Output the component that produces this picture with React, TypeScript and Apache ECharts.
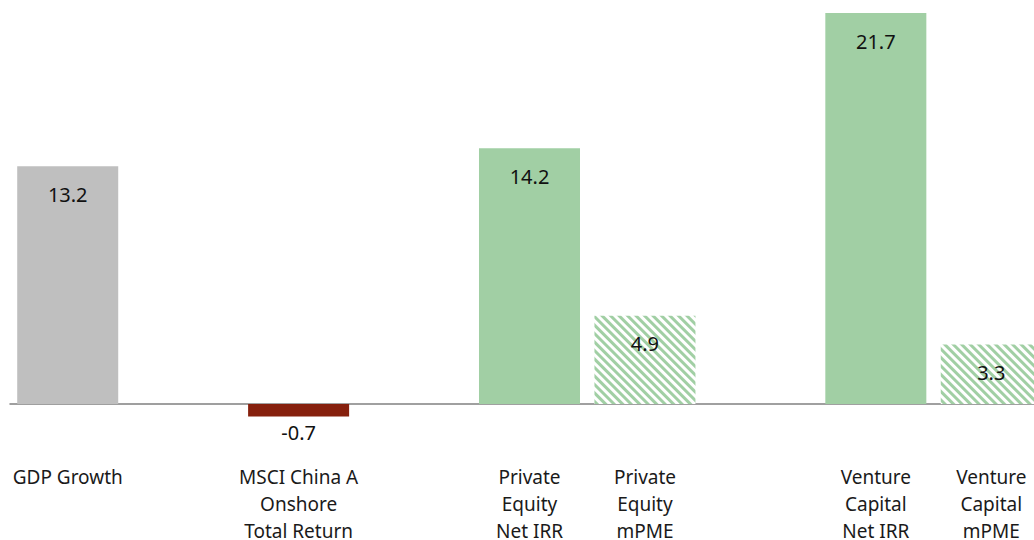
import React, { useEffect, useRef } from "react";
import * as echarts from "echarts";

const categories = [
  "GDP Growth",
  "",
  "MSCI China A\nOnshore\nTotal Return",
  "",
  "Private\nEquity\nNet IRR",
  "Private\nEquity\nmPME",
  "",
  "Venture\nCapital\nNet IRR",
  "Venture\nCapital\nmPME",
];
const values: (number | null)[] = [13.2, null, -0.7, null, 14.2, 4.9, null, 21.7, 3.3];
const kinds = ["gray", "", "red", "", "green", "hatch", "", "green", "hatch"];

const FONT = "Noto Sans";

export default function App() {
  const ref = useRef<HTMLDivElement>(null);
  useEffect(() => {
    if (!ref.current) return;
    const chart = echarts.init(ref.current, null, { renderer: "svg" });
    const data = values.map((v, i) => {
      if (v === null) return { value: "-" as any };
      const k = kinds[i];
      const itemStyle: any =
        k === "gray"
          ? { color: "#bfbfbf" }
          : k === "red"
          ? { color: "#86200d" }
          : k === "green"
          ? { color: "#a1cfa4" }
          : {
              color: "#ffffff",
              decal: {
                symbol: "rect",
                symbolSize: 1,
                dashArrayX: [1, 0],
                dashArrayY: [2.3, 2.1],
                rotation: Math.PI / 4,
                color: "#a1cfa4",
              },
            };
      const label: any =
        v < 0
          ? { position: "bottom", distance: 5 }
          : { position: "insideTop", distance: 17 };
      return { value: v, itemStyle, label };
    });
    chart.setOption({
      animation: false,
      grid: { left: 10, right: -15, top: 7.6, bottom: 100, outerBoundsMode: "none", containLabel: false },
      xAxis: {
        type: "category",
        data: categories,
        axisLine: { onZero: true, lineStyle: { color: "#808080", width: 1.5 } },
        axisTick: { show: false },
        axisLabel: {
          interval: 0,
          margin: 23.5,
          fontFamily: FONT,
          fontSize: 19,
          lineHeight: 27,
          color: "#1a1a1a",
          verticalAlign: "top",
        },
      },
      yAxis: {
        type: "value",
        min: -2,
        max: 22,
        show: false,
        splitLine: { show: false },
      },
      series: [
        {
          type: "bar",
          data,
          barWidth: "87.5%",
          label: {
            show: true,
            fontFamily: FONT,
            fontSize: 20,
            lineHeight: 22,
            color: "#111",
            formatter: (p: any) => Number(p.value).toFixed(1),
          },
        },
      ],
    });
    return () => chart.dispose();
  }, []);
  return (
    <div
      ref={ref}
      style={{ position: "absolute", left: 0, top: 0, width: 1034, height: 540, background: "#fff" }}
    />
  );
}
